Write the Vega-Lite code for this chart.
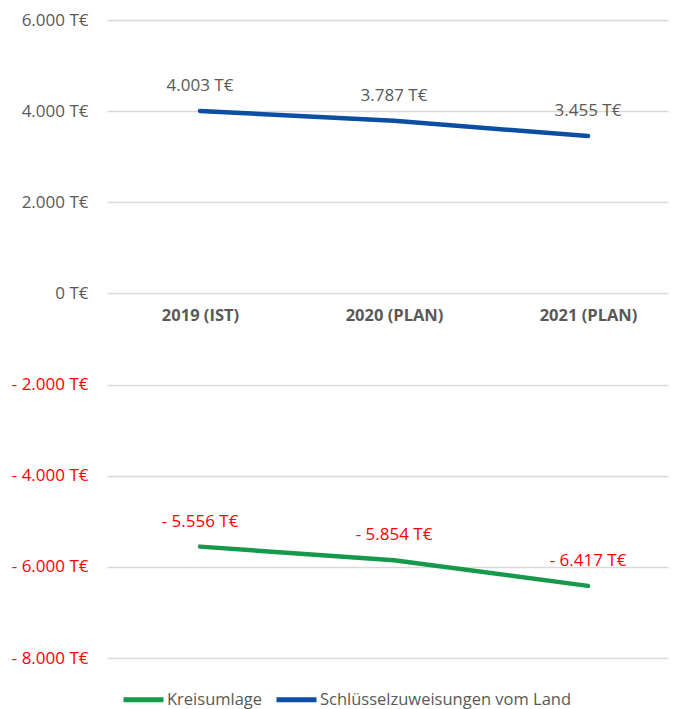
{
  "$schema": "https://vega.github.io/schema/vega-lite/v6.json",
  "width": 561,
  "height": 638,
  "autosize": "none",
  "padding": {"left": 107, "top": 20, "right": 7, "bottom": 51},
  "background": "white",
  "config": {
    "view": {"stroke": null},
    "font": "Open Sans"
  },
  "data": {
    "values": [
      {"year": 2019, "category": "2019 (IST)", "series": "Kreisumlage", "value": -5556},
      {"year": 2020, "category": "2020 (PLAN)", "series": "Kreisumlage", "value": -5854},
      {"year": 2021, "category": "2021 (PLAN)", "series": "Kreisumlage", "value": -6417},
      {"year": 2019, "category": "2019 (IST)", "series": "Schlüsselzuweisungen vom Land", "value": 4003},
      {"year": 2020, "category": "2020 (PLAN)", "series": "Schlüsselzuweisungen vom Land", "value": 3787},
      {"year": 2021, "category": "2021 (PLAN)", "series": "Schlüsselzuweisungen vom Land", "value": 3455}
    ]
  },
  "transform": [
    {"calculate": "(datum.value < 0 ? '- ' : '') + replace(format(abs(datum.value), ',.0f'), ',', '.') + ' T€'", "as": "label"}
  ],
  "encoding": {
    "x": {
      "field": "year",
      "type": "quantitative",
      "scale": {"domain": [2018.5206, 2021.4124], "nice": false, "zero": false},
      "axis": {
        "title": null,
        "orient": "bottom",
        "offset": -364,
        "values": [2019, 2020, 2021],
        "labelExpr": "datum.value == 2019 ? '2019 (IST)' : datum.value == 2020 ? '2020 (PLAN)' : '2021 (PLAN)'",
        "domain": false,
        "ticks": false,
        "grid": false,
        "labelAngle": 0,
        "labelFontSize": 16.5,
        "labelFontWeight": "bold",
        "labelColor": "#595959",
        "labelPadding": 13,
        "labelFont": "Open Sans"
      }
    },
    "y": {
      "field": "value",
      "type": "quantitative",
      "scale": {"domain": [-8000, 6000], "nice": false, "zero": false},
      "axis": {
        "title": null,
        "values": [-8000, -6000, -4000, -2000, 0, 2000, 4000, 6000],
        "domain": false,
        "ticks": false,
        "grid": true,
        "gridColor": "#D9D9D9",
        "gridWidth": 1.3,
        "labelPadding": 19,
        "labelFontSize": 17,
        "labelFont": "Open Sans",
        "labelColor": {"expr": "datum.value < 0 ? '#FF0000' : '#595959'"},
        "labelExpr": "(datum.value < 0 ? '- ' : '') + replace(format(abs(datum.value), ',.0f'), ',', '.') + ' T€'"
      }
    }
  },
  "layer": [
    {
      "mark": {"type": "line", "strokeWidth": 4.5, "strokeCap": "round", "interpolate": "linear"},
      "encoding": {
        "color": {
          "field": "series",
          "type": "nominal",
          "scale": {
            "domain": ["Kreisumlage", "Schlüsselzuweisungen vom Land"],
            "range": ["#16994A", "#0B4EA2"]
          },
          "legend": {
            "title": null,
            "orient": "none",
            "direction": "horizontal",
            "legendX": 14,
            "legendY": 657,
            "symbolType": "stroke",
            "symbolSize": 1600,
            "symbolStrokeWidth": 5,
            "labelFontSize": 16.5,
            "labelFont": "Open Sans",
            "labelColor": "#595959",
            "labelOffset": 1,
            "labelLimit": 400,
            "columnPadding": 3
          }
        }
      }
    },
    {
      "mark": {"type": "text", "dy": -25, "fontSize": 17, "font": "Open Sans"},
      "encoding": {
        "text": {"field": "label"},
        "color": {"condition": {"test": "datum.value < 0", "value": "#FF0000"}, "value": "#595959"}
      }
    }
  ]
}
